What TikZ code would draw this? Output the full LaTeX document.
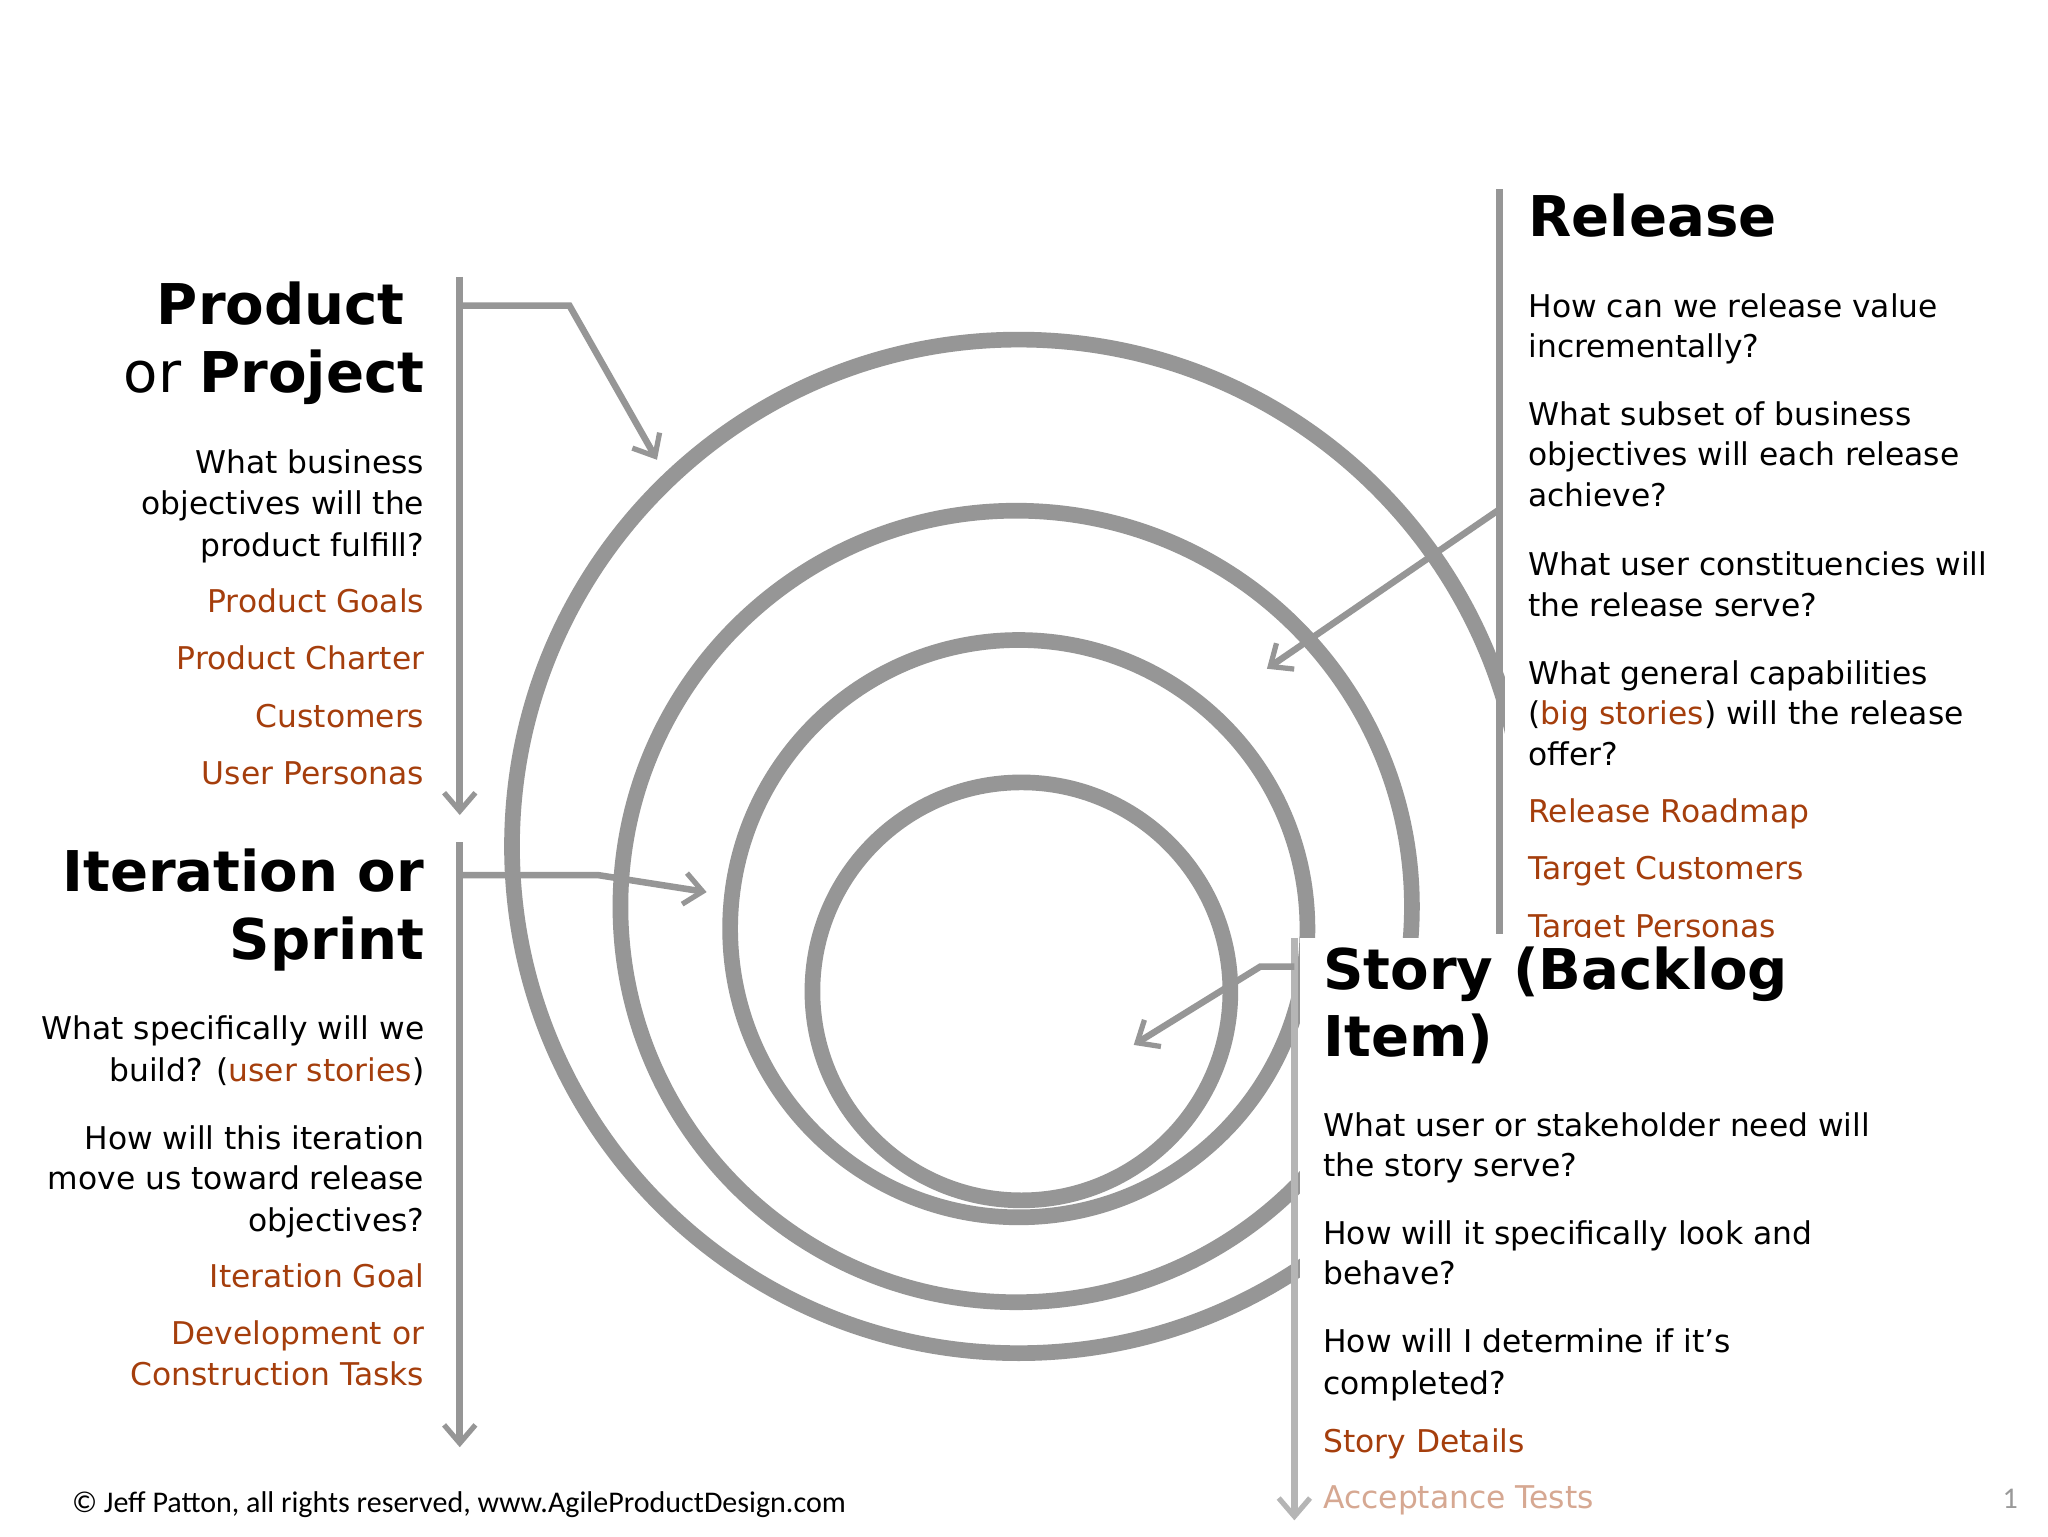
\documentclass[tikz,border=0pt]{standalone}
\usepackage{fontspec}
\setmainfont{DejaVu Sans}
\newfontfamily\cali{Carlito}
\usetikzlibrary{arrows.meta}
\definecolor{ring}{RGB}{150,150,150}
\definecolor{br}{RGB}{165,62,12}
\tikzset{
 x=1pt,y=-1pt,
 rg/.style={draw=ring,line width=12pt},
 ln/.style={draw=ring,line width=5pt},
 ar/.style={ln,-{Straight Barb[length=14pt,width=24pt,line width=4pt]}},
 tl/.style={font=\fontsize{24}{29}\selectfont,inner sep=0pt},
 tt/.style={font=\fontsize{43}{50}\selectfont\bfseries,inner sep=0pt},
}
\begin{document}
\begin{tikzpicture}
\useasboundingbox (0,0) rectangle (1568,1176);
\fill[white] (0,0) rectangle (1568,1176);
% spiral rings
\draw[rg] (780,648) circle (388);
\draw[rg] (778,694) circle (303);
\draw[rg] (780,711) circle (221);
\draw[rg] (782,759) circle (160);
\fill[white] (1152,140) rectangle (1568,718);
% Release text
\node[tt,anchor=mid west] (rt) at (1170,178) {Release};
\foreach \y/\t in {240/How can we release value,271/incrementally?,323/What subset of business,354/objectives will each release,385/achieve?,438/What user constituencies will,469/the release serve?,521/What general capabilities,583/offer?}
  \node[tl,anchor=mid west] at (1170,\y) {\t};
\node[tl,anchor=mid west] at (1170,552) {(\textcolor{br}{big stories}) will the release};
\foreach \y/\t in {627/Release Roadmap,671/Target Customers,715/Target Personas}
  \node[tl,anchor=mid west,text=br] at (1170,\y) {\t};
\fill[white] (995,718) rectangle (1568,1176);
\coordinate (r0) at (1148,145); \coordinate (r1) at (1148,715);
\draw[ln] (r0) -- (r1);
\coordinate (rs) at (1148,390); \coordinate (re) at (970,512);
\draw[ar] (rs) -- (re);
% Product
\node[tt,anchor=mid east] (pt) at (310,246) {Product};
\node[tt,anchor=mid east] at (325,298) {\mdseries or \bfseries Project};
\foreach \y/\t in {360/What business,391/objectives will the,423/product fulfill?}
  \node[tl,anchor=mid east] at (325,\y) {\t};
\foreach \y/\t in {466/Product Goals,510/Product Charter,554/Customers,598/User Personas}
  \node[tl,anchor=mid east,text=br] at (325,\y) {\t};
\coordinate (p0) at (352,212); \coordinate (p1) at (352,624);
\draw[ar] (p0) -- (p1);
\coordinate (pa) at (352,234); \coordinate (pb) at (436,234); \coordinate (pc) at (503,352);
\draw[ar] (pa) -- (pb) -- (pc);
% Iteration
\node[tt,anchor=mid east] at (325,680) {Iteration or};
\node[tt,anchor=mid east] at (325,732) {Sprint};
\foreach \y/\t in {793/What specifically will we,877/How will this iteration,908/move us toward release,940/objectives?}
  \node[tl,anchor=mid east] at (325,\y) {\t};
\node[tl,anchor=mid east] at (325,825) {build? (\textcolor{br}{user stories})};
\foreach \y/\t in {983/Iteration Goal,1027/Development or,1058/Construction Tasks}
  \node[tl,anchor=mid east,text=br] at (325,\y) {\t};
\coordinate (i0) at (352,645); \coordinate (i1) at (352,1108);
\draw[ar] (i0) -- (i1);
\coordinate (ia) at (352,670); \coordinate (ib) at (458,670); \coordinate (ic) at (541,683);
\draw[ar] (ia) -- (ib) -- (ic);
% Story
\node[tt,anchor=mid west] at (1013,755) {Story (Backlog};
\node[tt,anchor=mid west] at (1013,806) {Item)};
\foreach \y/\t in {867/What user or stakeholder need will,898/the story serve?,950/How will it specifically look and,981/behave?,1033/How will I determine if it’s,1065/completed?}
  \node[tl,anchor=mid west] at (1013,\y) {\t};
\node[tl,anchor=mid west,text=br] at (1013,1109) {Story Details};
\node[tl,anchor=mid west,text=br!45] at (1013,1152) {Acceptance Tests};
\coordinate (s0) at (991,718); \coordinate (s1) at (991,1164);
\draw[ar,draw=ring!70] (s0) -- (s1);
\coordinate (sa) at (991,740); \coordinate (sb) at (965,740); \coordinate (sc) at (868,800);
\draw[ar] (sa) -- (sb) -- (sc);
% footer
\node[font=\cali\fontsize{23}{27}\selectfont,anchor=mid west,inner sep=0pt] at (55,1155) {© Jeff Patton, all rights reserved, www.AgileProductDesign.com};
\node[font=\cali\fontsize{23}{27}\selectfont,anchor=mid east,inner sep=0pt,text=black!40] at (1545,1152) {1};
\end{tikzpicture}
\end{document}
